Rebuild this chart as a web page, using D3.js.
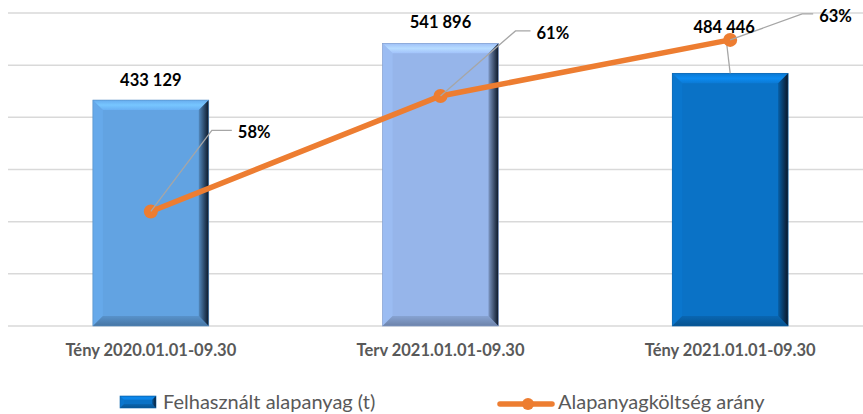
<!DOCTYPE html>
<html>
<head>
<meta charset="utf-8">
<script src="https://cdn.jsdelivr.net/npm/d3@7"></script>
<style>
  html, body { margin: 0; padding: 0; background: #fff; }
  svg { display: block; font-family: Lato, "Open Sans", sans-serif; }
</style>
</head>
<body>
<div id="chart"></div>
<script>
const categories = ["Tény 2020.01.01-09.30", "Terv 2021.01.01-09.30", "Tény 2021.01.01-09.30"];
const amounts = [433129, 541896, 484446];
const shares = [0.5766, 0.6135, 0.6314];
const amountTicks = [0, 100000, 200000, 300000, 400000, 500000, 600000];
const barSeriesName = "Felhasznált alapanyag (t)";
const lineSeriesName = "Alapanyagköltség arány";

const barColors = ["#62a3e2", "#96b5ea", "#0a72c6"];
const orange = "#ed7d31";

const width = 863, height = 414;
const plotTop = 13, plotBottom = 326;

const svg = d3.select("#chart").append("svg")
  .attr("width", width)
  .attr("height", height);
const defs = svg.append("defs");

const x = d3.scaleBand()
  .domain(categories)
  .range([6, 875])
  .paddingInner(0.6)
  .paddingOuter(0.3);

const y = d3.scaleLinear().domain([0, 600000]).range([plotBottom, plotTop]);
const y2 = d3.scaleLinear().domain([0.54, 0.64]).range([plotBottom, plotTop]);

// gridlines
svg.append("g")
  .selectAll("line")
  .data(amountTicks)
  .join("line")
  .attr("x1", 8)
  .attr("x2", width)
  .attr("y1", d => y(d))
  .attr("y2", d => y(d))
  .attr("stroke", "#d9d9d9")
  .attr("stroke-width", 1.5);

// bevelled bar like excel's "convex" effect
function bevelBar(parent, bx, by, w, h, color, id, b = 10) {
  const c = d3.color(color);
  const g = parent.append("g");
  const rg = defs.append("linearGradient").attr("id", "r" + id)
    .attr("x1", "0%").attr("x2", "100%").attr("y1", "0%").attr("y2", "0%");
  rg.append("stop").attr("offset", "0%").attr("stop-color", c.darker(0.5));
  rg.append("stop").attr("offset", "100%").attr("stop-color", "#0b1626");
  const tg = defs.append("linearGradient").attr("id", "t" + id)
    .attr("x1", "0%").attr("x2", "0%").attr("y1", "0%").attr("y2", "100%");
  tg.append("stop").attr("offset", "0%").attr("stop-color", c.brighter(0.15));
  tg.append("stop").attr("offset", "50%").attr("stop-color", c.brighter(0.55));
  tg.append("stop").attr("offset", "100%").attr("stop-color", c.brighter(0.2));
  const btg = defs.append("linearGradient").attr("id", "b" + id)
    .attr("x1", "0%").attr("x2", "0%").attr("y1", "0%").attr("y2", "100%");
  btg.append("stop").attr("offset", "0%").attr("stop-color", c.darker(0.3));
  btg.append("stop").attr("offset", "100%").attr("stop-color", c.darker(0.9));

  g.append("rect").attr("x", bx).attr("y", by).attr("width", w).attr("height", h).attr("fill", c);
  const poly = pts => pts.map(p => p.join(",")).join(" ");
  g.append("polygon")
    .attr("points", poly([[bx, by], [bx + b, by + b], [bx + b, by + h - b], [bx, by + h]]))
    .attr("fill", c.brighter(0.1));
  g.append("polygon")
    .attr("points", poly([[bx, by + h], [bx + w, by + h], [bx + w - b, by + h - b], [bx + b, by + h - b]]))
    .attr("fill", `url(#b${id})`);
  g.append("polygon")
    .attr("points", poly([[bx, by], [bx + w, by], [bx + w - b, by + b], [bx + b, by + b]]))
    .attr("fill", `url(#t${id})`);
  g.append("polygon")
    .attr("points", poly([[bx + w, by], [bx + w, by + h], [bx + w - b, by + h - b], [bx + w - b, by + b]]))
    .attr("fill", `url(#r${id})`);
  g.append("rect").attr("x", bx).attr("y", by).attr("width", w).attr("height", h)
    .attr("fill", "none").attr("stroke", c.darker(0.4)).attr("stroke-width", 0.6);
}

categories.forEach((cat, i) => {
  const v = amounts[i];
  bevelBar(svg, x(cat), y(v), x.bandwidth(), y(0) - y(v), barColors[i], i);
});

const cx = d => x(d) + x.bandwidth() / 2;
const fmt = v => d3.format(",")(v).replace(/,/g, " ");

// leader line for the third amount label (label was dragged)
const amountLabelDx = [0, 0, -6];
const amountLabelDy = [-20, -21, -46];
svg.append("line")
  .attr("x1", cx(categories[2]))
  .attr("y1", y(amounts[2]))
  .attr("x2", cx(categories[2]) - 4)
  .attr("y2", y(amounts[2]) - 34)
  .attr("stroke", "#a6a6a6")
  .attr("stroke-width", 1.3);

// line series
const line = d3.line()
  .x((d, i) => cx(categories[i]))
  .y(d => y2(d));
svg.append("path")
  .datum(shares)
  .attr("d", line)
  .attr("fill", "none")
  .attr("stroke", orange)
  .attr("stroke-width", 5.5)
  .attr("stroke-linecap", "round");
svg.append("g")
  .selectAll("circle")
  .data(shares)
  .join("circle")
  .attr("cx", (d, i) => cx(categories[i]))
  .attr("cy", d => y2(d))
  .attr("r", 7)
  .attr("fill", orange);

// percent label leaders
const pctElbow = [[61, -81], [75, -65], [72, -26]];
const pctTail = [20, 15, 11];
const leaders = svg.append("g");
shares.forEach((s, i) => {
  const px = cx(categories[i]), py = y2(s);
  const ex = px + pctElbow[i][0], ey = py + pctElbow[i][1];
  leaders.append("polyline")
    .attr("points", `${px},${py} ${ex},${ey} ${ex + pctTail[i]},${ey}`)
    .attr("fill", "none")
    .attr("stroke", "#a6a6a6")
    .attr("stroke-width", 1.3);
  svg.append("text")
    .attr("x", ex + pctTail[i] + 6)
    .attr("y", ey + 2)
    .attr("dy", "0.35em")
    .attr("font-size", 16.5)
    .attr("font-weight", 700)
    .attr("fill", "#000")
    .text(d3.format(".0%")(s));
});

// amount labels
svg.append("g")
  .selectAll("text")
  .data(amounts)
  .join("text")
  .attr("x", (d, i) => cx(categories[i]) + amountLabelDx[i])
  .attr("y", (d, i) => y(d) + amountLabelDy[i])
  .attr("dy", "0.35em")
  .attr("text-anchor", "middle")
  .attr("font-size", 16.5)
  .attr("font-weight", 700)
  .attr("fill", "#000")
  .text(fmt);

// category axis
const xAxis = svg.append("g")
  .attr("transform", `translate(0,${plotBottom})`)
  .call(d3.axisBottom(x).tickSize(0).tickPadding(18));
xAxis.select(".domain").remove();
xAxis.selectAll("text")
  .attr("font-family", "Lato, sans-serif")
  .attr("font-size", 16.5)
  .attr("font-weight", 700)
  .attr("fill", "#595959");

// legend
const legend = svg.append("g");
bevelBar(legend, 120, 396, 36, 12, barColors[2], "leg", 4);
legend.append("text")
  .attr("x", 163).attr("y", 402).attr("dy", "0.35em")
  .attr("font-size", 20).attr("fill", "#595959")
  .text(barSeriesName);
legend.append("line")
  .attr("x1", 500).attr("x2", 552).attr("y1", 404).attr("y2", 404)
  .attr("stroke", orange).attr("stroke-width", 5.5).attr("stroke-linecap", "round");
legend.append("circle")
  .attr("cx", 528).attr("cy", 404).attr("r", 6).attr("fill", orange);
legend.append("text")
  .attr("x", 558).attr("y", 402).attr("dy", "0.35em")
  .attr("font-size", 20).attr("fill", "#595959")
  .text(lineSeriesName);
</script>
</body>
</html>
